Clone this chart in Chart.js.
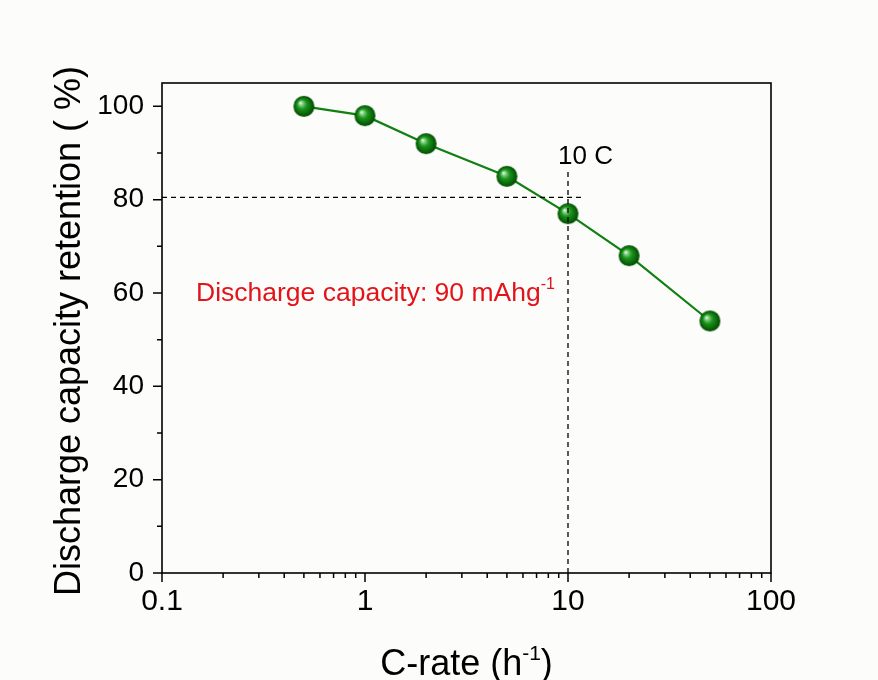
<!DOCTYPE html>
<html>
<head>
<meta charset="utf-8">
<script src="https://cdn.jsdelivr.net/npm/chart.js@4"></script>
<style>
  html, body { margin:0; padding:0; background:#fcfcfa; }
  canvas { display:block; }
</style>
</head>
<body>
<canvas id="rateChart" width="878" height="680"></canvas>
<script>
// measured points
const C_RATE = [0.5, 1, 2, 5, 10, 20, 50];
const RETENTION = [100, 98, 92, 85, 77, 68, 54];

// dashed guide lines (10 C marker)
const H_GUIDE_X = [0.1, 11.6];
const H_GUIDE_Y = [80.5, 80.5];
const V_GUIDE_X = [10, 10];
const V_GUIDE_Y = [0, 86.5];

const X_TICKS = [0.1, 1, 10, 100];
const Y_TICKS = [0, 20, 40, 60, 80, 100];
const Y_MINOR = [10, 30, 50, 70, 90];

const FONT = 'Arial, "Liberation Sans", sans-serif';

function pts(xs, ys){ return xs.map((x,i)=>({x:x, y:ys[i]})); }

// green ball marker
function makeBall(r){
  const c = document.createElement('canvas');
  c.width = c.height = r*2+2;
  const g = c.getContext('2d');
  const cx = r+1, cy = r+1;
  const grad = g.createRadialGradient(cx-r*0.35, cy-r*0.35, 0, cx, cy, r);
  grad.addColorStop(0, '#ffffff');
  grad.addColorStop(0.2, '#7ccf7c');
  grad.addColorStop(0.45, '#1d951d');
  grad.addColorStop(1, '#004a00');
  g.fillStyle = grad;
  g.beginPath(); g.arc(cx, cy, r, 0, Math.PI*2); g.fill();
  return c;
}
const ball = makeBall(10.5);

// draws text pieces in a row, some as superscripts
function runText(ctx, parts, x, y){
  parts.forEach(p=>{ ctx.font = p[1]; ctx.fillText(p[0], x, y + p[2]); x += ctx.measureText(p[0]).width; });
}
function runWidth(ctx, parts){
  let w = 0;
  parts.forEach(p=>{ ctx.font = p[1]; w += ctx.measureText(p[0]).width; });
  return w;
}

// box, minor/major tick marks, titles and notes
const decorations = {
  id: 'decorations',
  afterDraw(chart){
    const ctx = chart.ctx;
    const a = chart.chartArea;
    const xs = chart.scales.x, ys = chart.scales.y;
    ctx.save();
    ctx.strokeStyle = '#000';
    ctx.lineWidth = 1.6;
    ctx.strokeRect(a.left, a.top, a.right-a.left, a.bottom-a.top);

    ctx.lineWidth = 1.5;
    ctx.beginPath();
    X_TICKS.forEach(v=>{ const px = xs.getPixelForValue(v); ctx.moveTo(px, a.bottom); ctx.lineTo(px, a.bottom+9); });
    for(let d=0.1; d<100; d*=10){
      for(let m=2; m<=9; m++){
        const px = xs.getPixelForValue(d*m);
        ctx.moveTo(px, a.bottom); ctx.lineTo(px, a.bottom+5);
      }
    }
    Y_TICKS.forEach(v=>{ const py = ys.getPixelForValue(v); ctx.moveTo(a.left, py); ctx.lineTo(a.left-9, py); });
    Y_MINOR.forEach(v=>{ const py = ys.getPixelForValue(v); ctx.moveTo(a.left, py); ctx.lineTo(a.left-5, py); });
    ctx.stroke();

    // x title with superscript
    ctx.fillStyle = '#000';
    ctx.textBaseline = 'alphabetic';
    const big = '36px ' + FONT, sup = '21px ' + FONT;
    const parts = [['C-rate (h', big, 0], ['-1', sup, -15], [')', big, 0]];
    runText(ctx, parts, (a.left + a.right)/2 - runWidth(ctx, parts)/2, 675);

    // y title
    ctx.save();
    ctx.translate(70, 331);
    ctx.rotate(-Math.PI/2);
    ctx.font = big;
    ctx.textAlign = 'center';
    ctx.textBaseline = 'middle';
    ctx.fillText('Discharge capacity retention ( %)', 0, 0);
    ctx.restore();

    // 10 C label
    ctx.font = '26px ' + FONT;
    ctx.textAlign = 'left';
    ctx.fillText('10 C', xs.getPixelForValue(10) - 10, 164);

    // red note
    ctx.fillStyle = '#e2141a';
    runText(ctx, [['Discharge capacity: 90 mAhg', '26.5px ' + FONT, 0], ['-1', '16px ' + FONT, -12]], 196, 301);
    ctx.restore();
  }
};

new Chart(document.getElementById('rateChart'), {
  type: 'line',
  data: {
    datasets: [
      { label: 'hguide', data: pts(H_GUIDE_X, H_GUIDE_Y), borderColor: '#000', borderWidth: 1.3, borderDash: [5,4], pointRadius: 0, fill: false },
      { label: 'vguide', data: pts(V_GUIDE_X, V_GUIDE_Y), borderColor: '#000', borderWidth: 1.3, borderDash: [5,4], pointRadius: 0, fill: false },
      { label: 'retention', data: pts(C_RATE, RETENTION), borderColor: '#127f12', borderWidth: 2.2,
        pointStyle: ball, pointRadius: 10.5, pointHoverRadius: 10.5, fill: false, tension: 0 }
    ]
  },
  options: {
    responsive: false,
    animation: false,
    events: [],
    layout: { padding: { left: 0, top: 83, right: 107, bottom: 0 } },
    plugins: { legend: { display: false }, tooltip: { enabled: false } },
    scales: {
      x: {
        type: 'logarithmic', min: 0.1, max: 100,
        grid: { display: false }, border: { display: false },
        afterBuildTicks: s => { s.ticks = X_TICKS.map(v=>({value:v})); },
        afterFit: s => { s.height = 107; },
        ticks: { color: '#000', font: { size: 30, family: FONT }, padding: 3, maxRotation: 0, autoSkip: false,
                 callback: v => String(v) }
      },
      y: {
        min: 0, max: 105,
        grid: { display: false }, border: { display: false },
        afterBuildTicks: s => { s.ticks = Y_TICKS.map(v=>({value:v})); },
        afterFit: s => { s.width = 162; },
        ticks: { color: '#000', font: { size: 28, family: FONT }, padding: 10 }
      }
    }
  },
  plugins: [decorations]
});
</script>
</body>
</html>
